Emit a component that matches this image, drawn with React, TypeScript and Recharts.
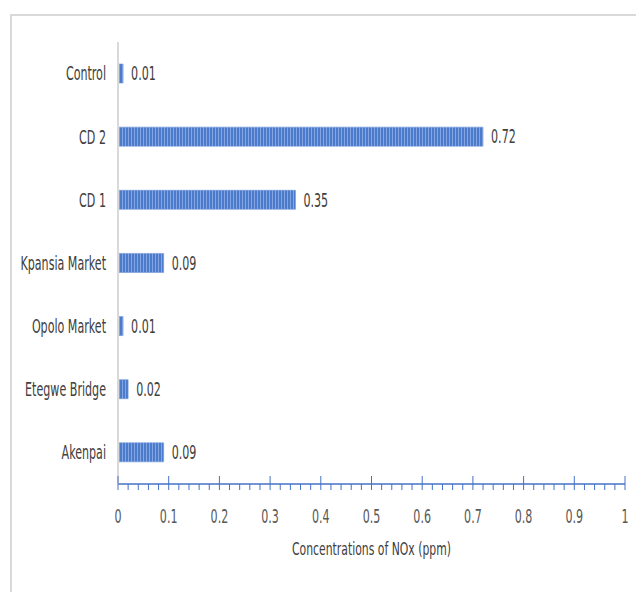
import { FC } from 'react';
import { Bar, BarChart, LabelList, XAxis, YAxis } from 'recharts';

// sites, top to bottom as drawn
const sites = ['Control', 'CD 2', 'CD 1', 'Kpansia Market', 'Opolo Market', 'Etegwe Bridge', 'Akenpai'];
const noxValues = [0.01, 0.72, 0.35, 0.09, 0.01, 0.02, 0.09];
const xTicks = [
    0, 0.02, 0.04, 0.06, 0.08, 0.1, 0.12, 0.14, 0.16, 0.18,
    0.2, 0.22, 0.24, 0.26, 0.28, 0.3, 0.32, 0.34, 0.36, 0.38,
    0.4, 0.42, 0.44, 0.46, 0.48, 0.5, 0.52, 0.54, 0.56, 0.58,
    0.6, 0.62, 0.64, 0.66, 0.68, 0.7, 0.72, 0.74, 0.76, 0.78,
    0.8, 0.82, 0.84, 0.86, 0.88, 0.9, 0.92, 0.94, 0.96, 0.98, 1,
];

const FONT = '"DejaVu Sans Condensed", "DejaVu Sans", sans-serif';
const AXIS_BLUE = '#4472c4';

const data = sites.map((s, i) => ({ site: s, nox: noxValues[i] }));

// narrow, tall text like the original Calibri rendering
const NarrowText: FC<{ x: number; y: number; anchor: 'start' | 'middle' | 'end'; fill: string; size?: number; sx?: number; children: any }> =
    ({ x, y, anchor, fill, size = 19, sx = 0.65, children }) => (
        <text transform={`translate(${x},${y}) scale(${sx},1)`} textAnchor={anchor} dy="0.36em" fill={fill} fontSize={size} fontFamily={FONT}>
            {children}
        </text>
    );

const XTick: FC<any> = ({ x, y, payload }) => {
    const v = payload.value as number;
    const major = Math.abs(v * 10 - Math.round(v * 10)) < 1e-6;
    return (
        <g>
            {major
                ? <line x1={x} x2={x} y1={y - 8} y2={y + 6} stroke={AXIS_BLUE} strokeWidth={1} />
                : <line x1={x} x2={x} y1={y} y2={y + 6} stroke={AXIS_BLUE} strokeWidth={1} />}
            {major && (
                <NarrowText x={x} y={y + 32} anchor="middle" fill="#595959">
                    {String(Math.round(v * 10) / 10)}
                </NarrowText>
            )}
        </g>
    );
};

const YTick: FC<any> = ({ x, y, payload }) => (
    <NarrowText x={x} y={y} anchor="end" fill="#404040">{payload.value}</NarrowText>
);

const ValueLabel: FC<any> = ({ x, y, width, height, value }) => (
    <NarrowText x={x + width + 8} y={y + height / 2} anchor="start" fill="#404040">{value}</NarrowText>
);

const AxisTitle: FC<any> = ({ viewBox }) => (
    <NarrowText x={viewBox.x + viewBox.width / 2} y={549} anchor="middle" fill="#404040" size={18} sx={0.67}>
        Concentrations of NOx (ppm)
    </NarrowText>
);

const App: FC = () => {
    return (
        <div style={{ position: 'absolute', left: 0, top: 0, width: 636, height: 592, background: '#fff' }}>
            <div style={{ position: 'absolute', left: 10, top: 14, width: 640, height: 600, borderLeft: '2px solid #d9d9d9', borderTop: '2px solid #d9d9d9' }} />
            <BarChart
                width={636}
                height={592}
                data={data}
                layout="vertical"
                margin={{ top: 42, right: 11, bottom: 0, left: 0 }}
                barCategoryGap={0}
                style={{ position: 'absolute', left: 0, top: 0 }}
            >
                <defs>
                    <pattern id="stripes" width={3} height={4} patternUnits="userSpaceOnUse">
                        <rect x={0} y={0} width={3} height={4} fill="#4c7bcc" />
                        <rect x={2} y={0} width={1} height={4} fill="#84a6e0" />
                    </pattern>
                </defs>
                <XAxis
                    type="number"
                    domain={[0, 1]}
                    ticks={xTicks}
                    interval={0}
                    height={108}
                    tickSize={0}
                    tickMargin={0}
                    tick={<XTick />}
                    axisLine={{ stroke: AXIS_BLUE, strokeWidth: 1.5 }}
                    label={<AxisTitle />}
                />
                <YAxis
                    type="category"
                    dataKey="site"
                    width={118}
                    tickLine={false}
                    tickSize={0}
                    tickMargin={12}
                    axisLine={{ stroke: '#d9d9d9', strokeWidth: 2 }}
                    tick={<YTick />}
                />
                <Bar dataKey="nox" barSize={19} fill="url(#stripes)" stroke="#6f95d8" strokeWidth={0.6} isAnimationActive={false}>
                    <LabelList dataKey="nox" content={<ValueLabel />} />
                </Bar>
            </BarChart>
        </div>
    );
};

export default App;
